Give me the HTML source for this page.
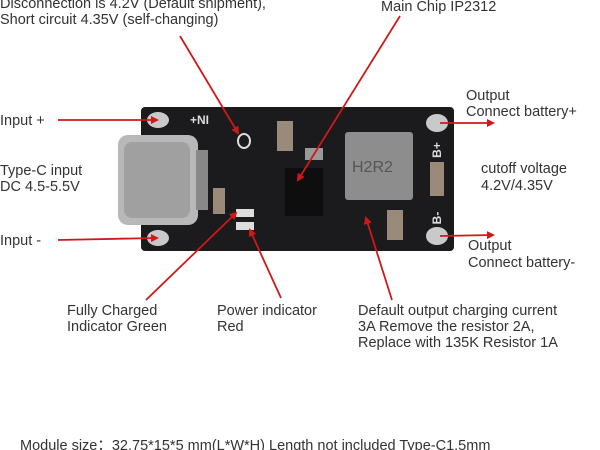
<!DOCTYPE html>
<html><head><meta charset="utf-8"><style>
html,body{margin:0;padding:0;background:#fff;width:600px;height:450px;overflow:hidden}
svg{display:block}
text{font-family:"Liberation Sans","DejaVu Sans",sans-serif;font-size:14.5px;fill:#333}
</style></head><body>
<svg width="600" height="450" viewBox="0 0 600 450" xmlns="http://www.w3.org/2000/svg">
<defs>
<marker id="ah" markerWidth="8" markerHeight="8" refX="6" refY="4" orient="auto" markerUnits="userSpaceOnUse" viewBox="0 0 8 8">
<path d="M0,0 L8,4 L0,8 Z" fill="#d01818"/></marker>
</defs>
<rect x="141" y="107" width="313" height="144" rx="4" fill="#1b1b1d"/>
<ellipse cx="158" cy="120" rx="11" ry="8" fill="#c9c9c9"/>
<ellipse cx="158" cy="238" rx="11" ry="8" fill="#c9c9c9"/>
<ellipse cx="437" cy="123" rx="11" ry="9" fill="#c9c9c9"/>
<ellipse cx="437" cy="236" rx="11" ry="9" fill="#c9c9c9"/>
<text x="190" y="124" style="font-size:12px;fill:#ddd;font-weight:bold">+NI</text>
<text transform="translate(441 150) rotate(-90)" text-anchor="middle" style="font-size:12px;fill:#ddd;font-weight:bold">B+</text>
<text transform="translate(441 218) rotate(-90)" text-anchor="middle" style="font-size:12px;fill:#ddd;font-weight:bold">B-</text>
<rect x="118" y="135" width="80" height="90" rx="10" fill="#b8b8b8"/>
<rect x="124" y="142" width="66" height="76" rx="8" fill="#a0a0a0"/>
<rect x="196" y="150" width="12" height="60" fill="#888"/>
<rect x="345" y="132" width="68" height="68" rx="3" fill="#8d8d8d"/>
<text x="352" y="172" style="font-size:16px;fill:#555">H2R2</text>
<rect x="285" y="168" width="38" height="48" fill="#0e0e0e"/>
<rect x="277" y="121" width="16" height="30" fill="#9a8a7a"/>
<rect x="430" y="162" width="14" height="34" fill="#9a8a7a"/>
<rect x="387" y="210" width="16" height="30" fill="#9a8a7a"/>
<rect x="213" y="188" width="12" height="26" fill="#9a8a7a"/>
<rect x="305" y="148" width="18" height="12" fill="#999"/>
<rect x="236" y="209" width="18" height="8" fill="#ddd"/>
<rect x="236" y="222" width="18" height="8" fill="#ddd"/>
<ellipse cx="244" cy="141" rx="6" ry="7" fill="none" stroke="#ddd" stroke-width="2"/>
<g stroke="#d01818" stroke-width="1.8" fill="none" marker-end="url(#ah)">
<line x1="180" y1="36" x2="238" y2="133"/>
<line x1="400" y1="16" x2="298" y2="180"/>
<line x1="58" y1="120" x2="157" y2="120"/>
<line x1="58" y1="240" x2="157" y2="238"/>
<line x1="440" y1="123" x2="493" y2="123"/>
<line x1="440" y1="236" x2="493" y2="235"/>
<line x1="146" y1="300" x2="236" y2="213"/>
<line x1="281" y1="298" x2="250" y2="230"/>
<line x1="392" y1="300" x2="366" y2="218"/>
</g>
<text x="0" y="8">Disconnection is 4.2V (Default shipment),</text>
<text x="0" y="24">Short circuit 4.35V (self-changing)</text>
<text x="381" y="11">Main Chip IP2312</text>
<text x="0" y="125">Input +</text>
<text x="0" y="175">Type-C input</text>
<text x="0" y="191">DC 4.5-5.5V</text>
<text x="0" y="245">Input -</text>
<text x="466" y="100">Output</text>
<text x="466" y="116">Connect battery+</text>
<text x="481" y="173">cutoff voltage</text>
<text x="481" y="190">4.2V/4.35V</text>
<text x="468" y="250">Output</text>
<text x="468" y="267">Connect battery-</text>
<text x="67" y="315">Fully Charged</text>
<text x="67" y="331">Indicator Green</text>
<text x="217" y="315">Power indicator</text>
<text x="217" y="331">Red</text>
<text x="358" y="315">Default output charging current</text>
<text x="358" y="331">3A Remove the resistor 2A,</text>
<text x="358" y="347">Replace with 135K Resistor 1A</text>
<text x="20" y="450">Module size：32.75*15*5 mm(L*W*H) Length not included Type-C1.5mm</text>
</svg>
</body></html>
